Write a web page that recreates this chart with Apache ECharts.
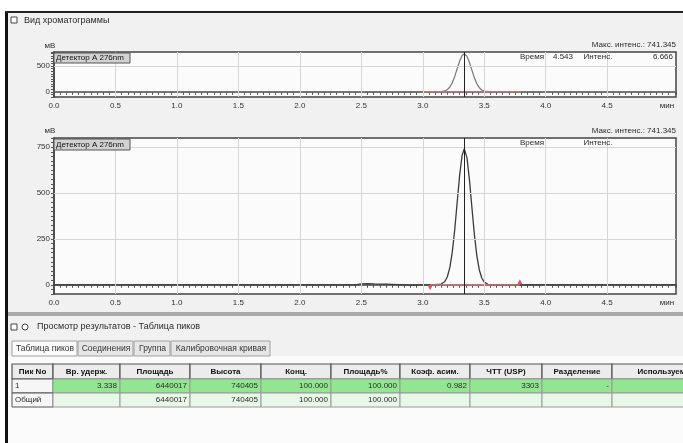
<!DOCTYPE html>
<html><head><meta charset="utf-8">
<script src="https://cdn.jsdelivr.net/npm/echarts@6/dist/echarts.min.js"></script>
<style>html,body{margin:0;padding:0;background:#fff}#c{width:683px;height:443px}</style>
</head><body><div id="c"></div><script>
// ---------- data ----------
const times = [0.0,0.5,1.0,1.5,2.0,2.45,2.5,2.55,2.6,2.7,2.8,2.9,3.0,3.1,3.15,3.18,3.2,3.22,3.24,3.26,3.28,3.3,3.32,3.338,3.36,3.38,3.4,3.42,3.44,3.46,3.48,3.5,3.53,3.56,3.6,4.0,4.5,5.06];
const intensities = [0,0,0,0,0,0,5,6,5,4,1,-2,0,1,4,18,44,94,178,300,450,598,706,741,690,570,419,273,158,81,37,15,3,1,0,0,0,0];
const retentionTime = 3.338;
const baselineTimes = [3.06, 3.79];
const baselineValues = [0, 0];
const baselineTimesTop = [3.0, 3.8];
const xTickValues = [0,0.5,1,1.5,2,2.5,3,3.5,4,4.5];
const xTickLabels = ['0.0','0.5','1.0','1.5','2.0','2.5','3.0','3.5','4.0','4.5'];
const yTickValuesBottom = [0,250,500,750];
const yTickLabelsBottom = ['0','250','500','750'];
const yTickValuesTop = [0,500];
const yTickLabelsTop = ['0','500'];
const tableHeaders = ['Пик No','Вр. удерж.','Площадь','Высота','Конц.','Площадь%','Коэф. асим.','ЧТТ (USP)','Разделение','Используемая'];
const tableRow1 = ['1','3.338','6440017','740405','100.000','100.000','0.982','3303','-',''];
const tableRow2 = ['Общий','','6440017','740405','100.000','100.000','','','',''];
const tabNames = ['Таблица пиков','Соединения','Группа','Калибровочная кривая'];

// ---------- layout ----------
const FONT = '8px "Liberation Sans", Arial, sans-serif';
const FONTM = '8.5px "Liberation Sans", Arial, sans-serif';
const FONTL = '9px "Liberation Sans", Arial, sans-serif';
const FONTB = 'bold 8px "Liberation Sans", Arial, sans-serif';
const signal = times.map((t,i)=>[t,intensities[i]]);
const baseline = baselineTimes.map((t,i)=>[t,baselineValues[i]]);
const baselineTop = baselineTimesTop.map((t,i)=>[t,baselineValues[i]]);
function fmt(vals, labels){ return v => { for (let i=0;i<vals.length;i++) if (Math.abs(v-vals[i])<1e-6) return labels[i]; return ''; }; }

function xAxisCfg(gi){
  return {gridIndex:gi, type:'value', min:0, max:5.06, interval:0.05,
    axisLine:{lineStyle:{color:'#444',width:1.5}},
    axisTick:{length:3,lineStyle:{color:'#555',width:1}},
    splitLine:{show:false},
    axisLabel:{formatter:fmt(xTickValues,xTickLabels),fontSize:8,color:'#333',margin:5,fontFamily:'Liberation Sans'}};
}
function yAxisCfg(gi,min,max,iv,vals,labels){
  return {gridIndex:gi, type:'value', min:min, max:max, interval:iv,
    axisLine:{show:true,lineStyle:{color:'#444',width:1.5}},
    axisTick:{show:true,length:3,lineStyle:{color:'#555',width:1}},
    splitLine:{show:false},
    axisLabel:{formatter:fmt(vals,labels),fontSize:8,color:'#333',margin:4,fontFamily:'Liberation Sans'}};
}
function gridLines(yVals){
  const d = [];
  xTickValues.slice(1).forEach(v=>d.push({xAxis:v}));
  yVals.forEach(v=>d.push({yAxis:v}));
  d.push({xAxis:retentionTime, lineStyle:{color:'#222',width:1,type:'solid'}});
  return {silent:true,symbol:'none',label:{show:false},animation:false,
    lineStyle:{color:'#d6d6d6',width:1,type:'solid'},data:d};
}

const colEdges = [12,53,120,190,261,331,400,470,542,612,720];
const rowTops = [364,379,393,407];
const tabEdges = [12,78,134,171,271];
const g = [];
function txt(text,x,y,opt){
  opt = opt||{};
  g.push({type:'text',z:20,style:{text:text,x:x,y:y,font:opt.font||FONT,fill:opt.fill||'#2a2a2a',
    align:opt.align||'left',textAlign:opt.align||'left',verticalAlign:'middle',textVerticalAlign:'middle'}});
}
function rect(x,y,w,h,fill,stroke,z,lw){
  g.push({type:'rect',z:z===undefined?5:z,shape:{x:x,y:y,width:w,height:h},style:{fill:fill,stroke:stroke||null,lineWidth:lw||1}});
}
// page backgrounds
rect(8,13,675,430,'#f1f1f1',null,-20);
rect(8,356,675,87,'#fbfbfb',null,-19);
rect(5,12,3,431,'#111',null,30);
rect(5,11,678,2,'#222',null,30);
// title
rect(11,17,6,6,'#fff','#444',10);
txt('Вид хроматограммы',24,21,{font:FONTL});
// detector boxes
rect(54,53,76,10,'#d2d2d2','#555',15);
txt('Детектор A 276nm',56,58,{fill:'#111'});
rect(54,139,76,11,'#d2d2d2','#555',15);
txt('Детектор A 276nm',56,144.5,{fill:'#111'});
// y units
txt('мВ',50,46,{align:'center'});
txt('мВ',50,131,{align:'center'});
// annotations
txt('Макс. интенс.: 741.345',676,45,{align:'right'});
txt('Время',532,57,{align:'center'});
txt('4.543',563,57,{align:'center'});
txt('Интенс.',598,57,{align:'center'});
txt('6.666',663,57,{align:'center'});
txt('Макс. интенс.: 741.345',676,131,{align:'right'});
txt('Время',532,143,{align:'center'});
txt('Интенс.',598,143,{align:'center'});
txt('мин',667,106,{align:'center'});
txt('мин',667,303,{align:'center'});
// separator
rect(8,312,675,4,'#a9a9a9',null,5);
rect(11,324,6,6,'#fff','#444',10);
g.push({type:'circle',z:10,shape:{cx:25,cy:327,r:3},style:{fill:'#fff',stroke:'#444'}});
txt('Просмотр результатов - Таблица пиков',37,327,{font:FONTL});
// tabs
tabNames.forEach((n,i)=>{
  const x0=tabEdges[i], x1=tabEdges[i+1];
  rect(x0,341,x1-x0-1,15,i===0?'#fbfbfb':'#e6e6e6','#a0a0a0',6);
  txt(n,(x0+x1)/2,348.5,{align:'center',fill:'#333',font:FONTM});
});
// table
[tableHeaders,tableRow1,tableRow2].forEach((row,r)=>{
  const y0=rowTops[r], y1=rowTops[r+1];
  row.forEach((val,c)=>{
    const x0=colEdges[c], x1=colEdges[c+1];
    let fill = r===0 ? '#ececec' : (r===1 ? '#92e692' : '#e8f7e8');
    if (c===0 && r>0) fill = '#f6f6f6';
    rect(x0,y0,x1-x0,y1-y0,fill,r===0||c===0?'#555':'#9a9a9a',6,r===0?1.2:1);
    if (!val) return;
    const ym=(y0+y1)/2;
    if (r===0) txt(val,(x0+x1)/2,ym,{align:'center',font:FONTB,fill:'#111'});
    else if (c===0) txt(val,x0+3,ym);
    else txt(val,x1-3,ym,{align:'right'});
  });
});

const option = {
  backgroundColor:'#ffffff',
  animation:false,
  grid:[
    {left:54,top:52,width:622,height:45,show:true,backgroundColor:'#fbfbfb',borderColor:'#444',borderWidth:1.5},
    {left:54,top:138,width:622,height:156,show:true,backgroundColor:'#fbfbfb',borderColor:'#444',borderWidth:1.5}
  ],
  xAxis:[xAxisCfg(0),xAxisCfg(1)],
  yAxis:[yAxisCfg(0,-100,775,50,yTickValuesTop,yTickLabelsTop),
         yAxisCfg(1,-50,800,25,yTickValuesBottom,yTickLabelsBottom)],
  series:[
    {type:'line',xAxisIndex:0,yAxisIndex:0,data:signal,showSymbol:false,lineStyle:{color:'#777',width:1.2},markLine:gridLines([500]),z:3},
    {type:'line',xAxisIndex:0,yAxisIndex:0,data:baselineTop,showSymbol:false,lineStyle:{color:'#e07a7a',width:1},z:4},
    {type:'line',xAxisIndex:1,yAxisIndex:1,data:signal,showSymbol:false,lineStyle:{color:'#3a3a3a',width:1.3},markLine:gridLines([250,500,750]),z:3},
    {type:'line',xAxisIndex:1,yAxisIndex:1,symbol:'triangle',symbolSize:5,showSymbol:true,
      itemStyle:{color:'#d95555'},lineStyle:{color:'#e07a7a',width:1.2},
      data:[{value:baseline[0],symbolRotate:180,symbolOffset:[0,3]},{value:baseline[1],symbolOffset:[0,-3]}],z:4}
  ],
  graphic:{elements:g}
};
const chart = echarts.init(document.getElementById('c'),null,{renderer:'canvas'});
chart.setOption(option);
</script></body></html>
